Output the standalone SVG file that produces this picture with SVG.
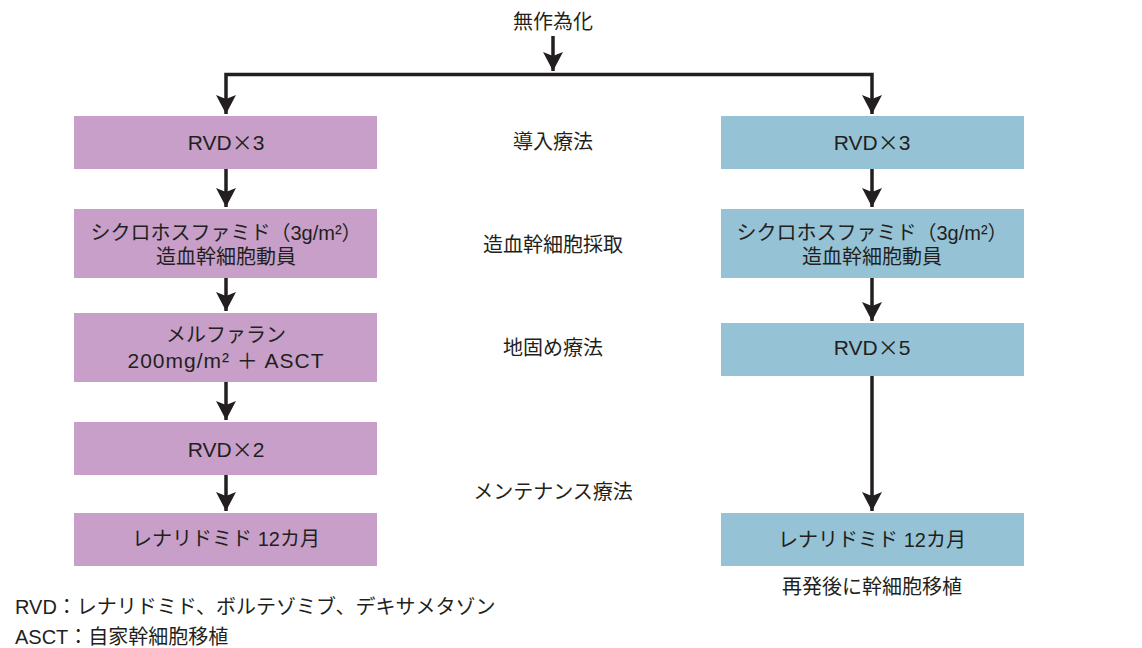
<svg xmlns="http://www.w3.org/2000/svg" width="1142" height="648" viewBox="0 0 1142 648">
<style>
text{font-family:"Liberation Sans","Noto Sans CJK JP",sans-serif;font-size:20px;fill:#231f20}
.c{text-anchor:middle}
.l{font-size:21px}
.x{font-family:"Noto Sans CJK JP",sans-serif}
.w{letter-spacing:1px}
.p{fill:#c89fc8}
.b{fill:#95c3d5}
.con path{fill:none;stroke:#231f20;stroke-width:3.5}
</style>
<defs>
<marker id="ah" markerUnits="userSpaceOnUse" markerWidth="24" markerHeight="24" viewBox="-20 -12 22 24" refX="0" refY="0" orient="auto">
<path d="M0,0 L-19,-10 L-15,0 L-19,10 Z" fill="#231f20"/>
</marker>
</defs>
<rect width="1142" height="648" fill="#fff"/>
<g class="con">
<path d="M553,36 V71" marker-end="url(#ah)"/>
<path d="M553,74.5 H226 V114" marker-end="url(#ah)"/>
<path d="M553,74.5 H872 V114" marker-end="url(#ah)"/>
<path d="M226,169 V207" marker-end="url(#ah)"/>
<path d="M226,278 V311" marker-end="url(#ah)"/>
<path d="M226,382 V420" marker-end="url(#ah)"/>
<path d="M226,475 V511" marker-end="url(#ah)"/>
<path d="M872,169 V207" marker-end="url(#ah)"/>
<path d="M872,278 V321" marker-end="url(#ah)"/>
<path d="M872,376 V511" marker-end="url(#ah)"/>
</g>
<g id="start"><text class="c" x="553" y="29">無作為化</text></g>
<g id="L1"><rect class="p" x="74" y="116" width="303" height="53"/><text class="c l" x="226" y="150">RVD<tspan class="x">×</tspan>3</text></g>
<g id="L2"><rect class="p" x="74" y="209" width="303" height="69"/><text class="c" x="226" y="240">シクロホスファミド（3g/m²）</text><text class="c" x="226" y="264">造血幹細胞動員</text></g>
<g id="L3"><rect class="p" x="74" y="313" width="303" height="69"/><text class="c" x="226" y="342">メルファラン</text><text class="c l w" x="226" y="368">200mg/m² ＋ ASCT</text></g>
<g id="L4"><rect class="p" x="74" y="422" width="303" height="53"/><text class="c l" x="226" y="457">RVD<tspan class="x">×</tspan>2</text></g>
<g id="L5"><rect class="p" x="74" y="513" width="303" height="53"/><text class="c" x="226" y="546">レナリドミド 12カ月</text></g>
<g id="R1"><rect class="b" x="721" y="116" width="303" height="53"/><text class="c l" x="872" y="150">RVD<tspan class="x">×</tspan>3</text></g>
<g id="R2"><rect class="b" x="721" y="209" width="303" height="69"/><text class="c" x="872" y="240">シクロホスファミド（3g/m²）</text><text class="c" x="872" y="264">造血幹細胞動員</text></g>
<g id="R3"><rect class="b" x="721" y="323" width="303" height="53"/><text class="c l" x="872" y="355">RVD<tspan class="x">×</tspan>5</text></g>
<g id="R4"><rect class="b" x="721" y="513" width="303" height="53"/><text class="c" x="872" y="547">レナリドミド 12カ月</text></g>
<g id="labels">
<text class="c" x="553" y="149">導入療法</text>
<text class="c" x="553" y="252">造血幹細胞採取</text>
<text class="c" x="553" y="355">地固め療法</text>
<text class="c" x="553" y="499">メンテナンス療法</text>
<text class="c" x="872" y="594">再発後に幹細胞移植</text>
</g>
<g id="legend">
<text x="15" y="614">RVD：レナリドミド、ボルテゾミブ、デキサメタゾン</text>
<text x="15" y="644">ASCT：自家幹細胞移植</text>
</g>
</svg>
